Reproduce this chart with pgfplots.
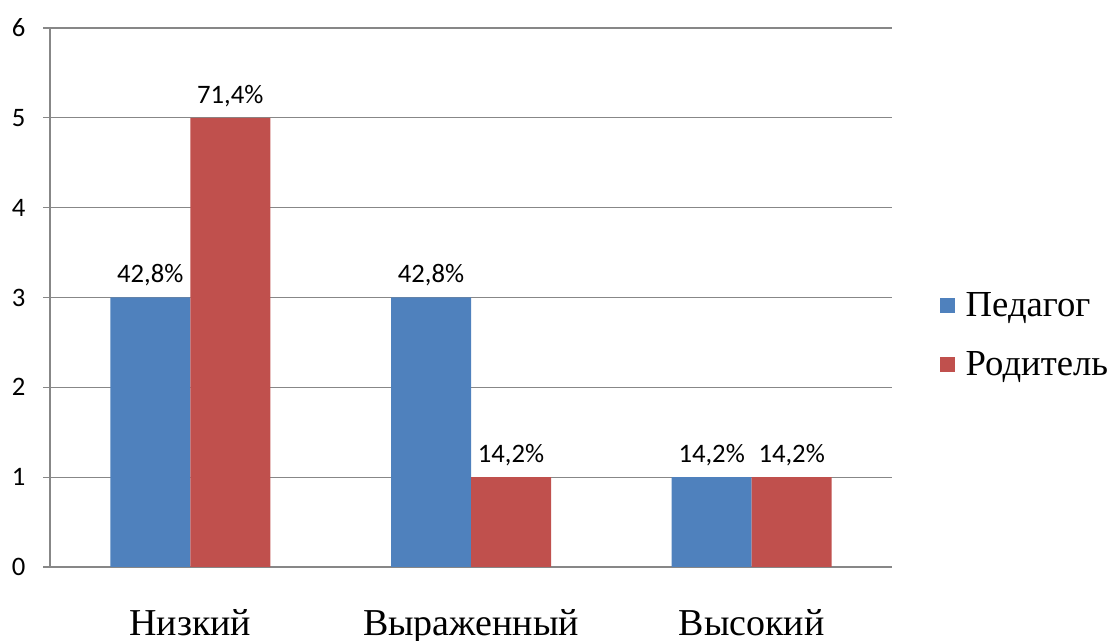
\documentclass[border=0pt]{standalone}
\usepackage{fontspec}
\setmainfont{Liberation Serif}
\newfontfamily\calfont{Carlito}
\usepackage{pgfplots}
\pgfplotsset{compat=1.18}
\usepackage{pgfplotstable}
\definecolor{cblue}{HTML}{4F81BD}
\definecolor{cred}{HTML}{C0504D}
\definecolor{cgrid}{HTML}{878787}
\pgfplotstableread{
x y lab
0 3 42,8\%
1 3 42,8\%
2 1 14,2\%
}\ped
\pgfplotstableread{
x y lab
0 5 71,4\%
1 1 14,2\%
2 1 14,2\%
}\rod
\begin{document}
\begin{tikzpicture}
\begin{axis}[
  scale only axis,
  width=631.5pt, height=404.25pt,
  ybar=0pt, bar width=60pt,
  xmin=-0.5, xmax=2.5, ymin=0, ymax=6,
  axis x line*=bottom, axis y line*=left,
  axis line style={cgrid, line width=0.9pt},
  xtick={0,1,2}, xticklabels={Низкий,Выраженный,Высокий},
  extra x ticks={-0.5,0.5,1.5,2.5}, extra x tick labels={},
  extra x tick style={major tick length=10pt, tick style={cgrid,line width=0.9pt}, grid=none},
  x tick style={draw=none},
  xticklabel style={font=\fontsize{28.5}{32}\selectfont, yshift=-23pt},
  ytick={0,...,6},
  y tick style={cgrid, line width=0.9pt},
  major tick length=5pt,
  tick align=outside,
  ymajorgrids, grid style={cgrid, line width=0.9pt},
  yticklabel style={font=\calfont\fontsize{20}{24}\selectfont, xshift=-10pt},
  /pgf/number format/assume math mode=true,
  nodes near coords,
  point meta=explicit symbolic,
  every node near coord/.append style={font=\calfont\fontsize{20}{24}\selectfont, yshift=5pt},
  legend cell align=left,
  legend style={at={(1.052,0.43)}, anchor=west, draw=none, fill=none,
    font=\fontsize{27.5}{31}\selectfont, row sep=21pt, column sep=6pt},
  legend image code/.code={\fill[#1] (0pt,-5.6pt) rectangle (11.25pt,5.6pt);},
  clip=false,
]
\addplot[fill=cblue, draw=none] table[x=x, y=y, meta=lab] {\ped};
\addplot[fill=cred, draw=none] table[x=x, y=y, meta=lab] {\rod};
\legend{Педагог, Родитель}
\end{axis}
\pgfresetboundingbox
\path ([xshift=-37.5pt,yshift=-55.5pt]current axis.south west) rectangle ([xshift=166.5pt,yshift=21pt]current axis.north east);
\end{tikzpicture}
\end{document}
